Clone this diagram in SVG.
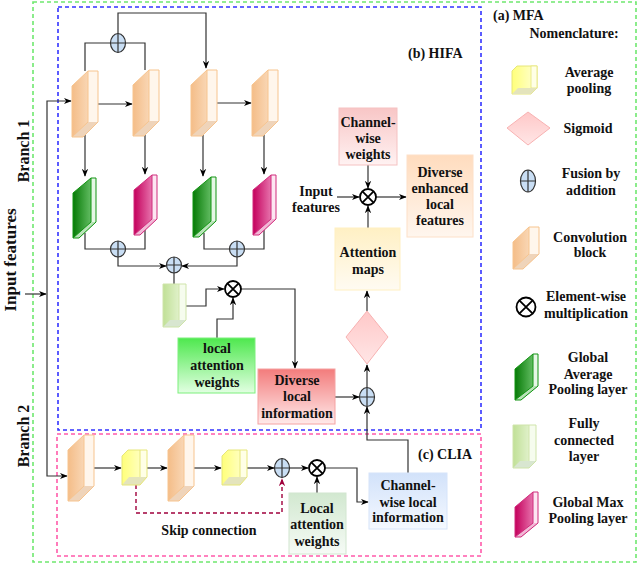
<svg xmlns="http://www.w3.org/2000/svg" width="640" height="565" viewBox="0 0 640 565">
<style>
text{font-family:"Liberation Serif","Times New Roman",serif;font-weight:bold;font-size:14px;fill:#111;text-anchor:middle}
.st{text-anchor:start}
.big{font-size:16px}
.ln{fill:none;stroke:#333;stroke-width:1.2}
.ar{marker-end:url(#arr)}
.skip{fill:none;stroke:#a0003c;stroke-width:1.4;stroke-dasharray:4 3;marker-end:url(#arrR)}
.frame{fill:none;stroke-width:1.6;stroke-dasharray:4 3}
</style>
<defs>
<marker id="arr" viewBox="0 0 10 10" refX="9" refY="5" markerWidth="8" markerHeight="8" markerUnits="userSpaceOnUse" orient="auto"><path d="M0,1 L10,5 L0,9 L3,5 Z" fill="#000"/></marker>
<marker id="arrR" viewBox="0 0 10 10" refX="9" refY="5" markerWidth="8" markerHeight="8" markerUnits="userSpaceOnUse" orient="auto"><path d="M0,1 L10,5 L0,9 L3,5 Z" fill="#a0003c"/></marker>
<linearGradient id="gConv" x1="0" y1="0" x2="1" y2="0"><stop offset="0" stop-color="#f4bd88"/><stop offset="1" stop-color="#fce6d0"/></linearGradient>
<linearGradient id="gGreen" x1="0" y1="0" x2="1" y2="0"><stop offset="0" stop-color="#067a06"/><stop offset="1" stop-color="#7ccf7c"/></linearGradient>
<linearGradient id="gMag" x1="0" y1="0" x2="1" y2="0"><stop offset="0" stop-color="#c4005c"/><stop offset="1" stop-color="#f092c2"/></linearGradient>
<linearGradient id="gYel" x1="0" y1="0" x2="1" y2="0"><stop offset="0" stop-color="#ffff7a"/><stop offset="1" stop-color="#ffffd6"/></linearGradient>
<linearGradient id="gFC" x1="0" y1="0" x2="1" y2="0"><stop offset="0" stop-color="#c0e096"/><stop offset="1" stop-color="#eef8e0"/></linearGradient>
<linearGradient id="bPink" x1="0" y1="0" x2="0" y2="1"><stop offset="0" stop-color="#f8c6c6"/><stop offset="1" stop-color="#fff2f2"/></linearGradient>
<linearGradient id="bOrange" x1="0" y1="0" x2="0" y2="1"><stop offset="0" stop-color="#ffdcbe"/><stop offset="1" stop-color="#fff6ee"/></linearGradient>
<linearGradient id="bYellow" x1="0" y1="0" x2="0" y2="1"><stop offset="0" stop-color="#fff0c4"/><stop offset="1" stop-color="#fffbf2"/></linearGradient>
<linearGradient id="bGreen" x1="0" y1="0" x2="0" y2="1"><stop offset="0" stop-color="#4ee84e"/><stop offset="1" stop-color="#e2ffe2"/></linearGradient>
<linearGradient id="bRed" x1="0" y1="0" x2="0" y2="1"><stop offset="0" stop-color="#f37c7c"/><stop offset="1" stop-color="#ffeaea"/></linearGradient>
<linearGradient id="bLGreen" x1="0" y1="0" x2="0" y2="1"><stop offset="0" stop-color="#d2e8d0"/><stop offset="1" stop-color="#f6fbf6"/></linearGradient>
<linearGradient id="bBlue" x1="0" y1="0" x2="0" y2="1"><stop offset="0" stop-color="#d2e2fa"/><stop offset="1" stop-color="#f5f9ff"/></linearGradient>
<linearGradient id="bDia" x1="0" y1="0" x2="0" y2="1"><stop offset="0" stop-color="#ffc8c8"/><stop offset="1" stop-color="#ffe6e6"/></linearGradient>
<g id="conv">
<path d="M0,15 L16,0 L26,0 L26,51 L11,66 L0,66 Z" fill="url(#gConv)"/>
<rect x="16" y="0" width="10" height="51" fill="#fff6ec"/>
<path d="M16,51 L26,51 L11,66 L0,66 Z" fill="#efd4ba"/>
<path d="M0,15 L16,0 L26,0 L26,51 L11,66 L0,66 Z M16,0 V51 L0,66" fill="none" stroke="#f7c48e" stroke-width="1"/>
</g>
<g id="gap">
<path d="M0,15 L18,0 L23,0 L23,44 L6,60 L0,60 Z" fill="url(#gGreen)"/>
<rect x="18" y="0" width="5" height="44" fill="#e6f7e6"/>
<path d="M18,44 L23,44 L6,60 L0,60 Z" fill="#b8e3b8"/>
<path d="M0,15 L18,0 L23,0 L23,44 L6,60 L0,60 Z M18,0 V44 L0,60" fill="none" stroke="#129412" stroke-width="1"/>
</g>
<g id="gmp">
<path d="M0,15 L18,0 L23,0 L23,44 L6,60 L0,60 Z" fill="url(#gMag)"/>
<rect x="18" y="0" width="5" height="44" fill="#fde6f2"/>
<path d="M18,44 L23,44 L6,60 L0,60 Z" fill="#f2b8d6"/>
<path d="M0,15 L18,0 L23,0 L23,44 L6,60 L0,60 Z M18,0 V44 L0,60" fill="none" stroke="#d02c7c" stroke-width="1"/>
</g>
<g id="avg">
<path d="M0,6 L6,0 L25,0 L25,27 L18,35 L0,35 Z" fill="url(#gYel)"/>
<rect x="18" y="0" width="7" height="27" fill="#ffffe6"/>
<path d="M7,27 L25,27 L18,35 L0,35 Z" fill="#e4e4bc"/>
<path d="M0,6 L6,0 L25,0 L25,27 L18,35 L0,35 Z M18,0 V27" fill="none" stroke="#e6e67a" stroke-width="1"/>
</g>
<g id="fc">
<path d="M0,0 L23,0 L23,36 L16,43 L0,43 Z" fill="url(#gFC)"/>
<rect x="16" y="0" width="7" height="36" fill="#f6fcee"/>
<path d="M7,36 L23,36 L16,43 L0,43 Z" fill="#d8e6d0"/>
<path d="M0,0 L23,0 L23,36 L16,43 L0,43 Z M16,0 V36" fill="none" stroke="#cfe4aa" stroke-width="1"/>
</g>
<g id="fuse">
<ellipse cx="0" cy="0" rx="7.5" ry="9.5" fill="#c9def4" stroke="#333" stroke-width="1.2"/>
<path d="M0,-9.5 V9.5 M-7.5,0 H7.5" stroke="#333" stroke-width="1.2"/>
</g>
<g id="fuseS">
<ellipse cx="0" cy="0" rx="7.5" ry="8" fill="#c9def4" stroke="#333" stroke-width="1.2"/>
<path d="M0,-8 V8 M-7.5,0 H7.5" stroke="#333" stroke-width="1.2"/>
</g>
<g id="mul">
<circle cx="0" cy="0" r="8" fill="#fff" stroke="#000" stroke-width="1.8"/>
<path d="M-5.6,-5.6 L5.6,5.6 M5.6,-5.6 L-5.6,5.6" stroke="#000" stroke-width="1.8"/>
</g>
</defs>

<rect width="640" height="565" fill="#fff"/>

<g id="frames">
<rect class="frame" x="33" y="2" width="603" height="560" stroke="#6fe86f"/>
<rect class="frame" x="58" y="7" width="423" height="423" stroke="#3333ff"/>
<rect class="frame" x="57" y="434" width="424" height="122" stroke="#ff5aaa"/>
<text class="st" x="493" y="20">(a) MFA</text>
<text class="st" x="408" y="58">(b) HIFA</text>
<text class="st" x="418" y="459">(c) CLIA</text>
</g>

<g id="side-labels">
<text class="big" transform="translate(29,151) rotate(-90)">Branch 1</text>
<text style="font-size:17px" transform="translate(16,260) rotate(-90)">Input features</text>
<text class="big" transform="translate(29,436) rotate(-90)">Branch 2</text>
</g>

<g id="connectors">
<path class="ln ar" d="M25,294 H46"/>
<path class="ln ar" d="M47,294 V101 H71"/>
<path class="ln ar" d="M47,294 V476 H67"/>
<path class="ln ar" d="M98,104 H132"/>
<path class="ln ar" d="M217,103 H251"/>
<path class="ln" d="M85,71 V43 H145 V70"/>
<path class="ln ar" d="M118,34 V13 H206 V68"/>
<path class="ln ar" d="M85,135 V176"/>
<path class="ln ar" d="M145,135 V174"/>
<path class="ln ar" d="M203,135 V176"/>
<path class="ln ar" d="M264,135 V174"/>
<path class="ln" d="M85,233 V249 H145 V230"/>
<path class="ln" d="M204,233 V249 H264 V230"/>
<path class="ln ar" d="M118,256 V266 H166"/>
<path class="ln ar" d="M237,256 V266 H182"/>
<path class="ln" d="M174,273 V284"/>
<path class="ln ar" d="M186,306 H206 V289 H224"/>
<path class="ln ar" d="M217,338 V319 H233 V298"/>
<path class="ln ar" d="M241,289 H295 V368"/>
<path class="ln ar" d="M335,397 H359"/>
<path class="ln ar" d="M367,387 V365"/>
<path class="ln ar" d="M367,311 V291"/>
<path class="ln ar" d="M368,228 V206"/>
<path class="ln ar" d="M368,165 V188"/>
<path class="ln ar" d="M337,197 H359"/>
<path class="ln ar" d="M376,197 H406"/>
<path class="ln ar" d="M94,468 H121"/>
<path class="ln ar" d="M147,468 H167"/>
<path class="ln ar" d="M194,468 H221"/>
<path class="ln ar" d="M247,468 H274"/>
<path class="ln ar" d="M289,468 H308"/>
<path class="ln ar" d="M325,468 H357 V502 H368"/>
<path class="ln ar" d="M317,493 V477"/>
<path class="ln ar" d="M408,473 V440 H367 V407"/>
<path class="skip" d="M136,485 V513 H282 V479"/>
</g>

<g id="hifa-conv1"><use href="#conv" x="72" y="71"/></g>
<g id="hifa-conv2"><use href="#conv" x="133" y="70"/></g>
<g id="hifa-conv3"><use href="#conv" x="191" y="70"/></g>
<g id="hifa-conv4"><use href="#conv" x="252" y="70"/></g>
<g id="hifa-gap1"><use href="#gap" x="73" y="178"/></g>
<g id="hifa-gmp1"><use href="#gmp" x="134" y="175"/></g>
<g id="hifa-gap2"><use href="#gap" x="193" y="177"/></g>
<g id="hifa-gmp2"><use href="#gmp" x="253" y="175"/></g>
<g id="fuse-top"><use href="#fuse" x="118" y="43"/></g>
<g id="fuse-l"><use href="#fuseS" x="118" y="249"/></g>
<g id="fuse-r"><use href="#fuseS" x="237" y="249"/></g>
<g id="fuse-c"><use href="#fuseS" x="174" y="265"/></g>
<g id="hifa-fc"><use href="#fc" x="163" y="284"/></g>
<g id="mul-hifa"><use href="#mul" x="233" y="289"/></g>

<g id="local-attention-weights">
<rect x="178" y="338" width="77" height="55" fill="url(#bGreen)" stroke="#7cef7c"/>
<text x="217" y="353">local</text><text x="217" y="370">attention</text><text x="217" y="387">weights</text>
</g>
<g id="diverse-local-information">
<rect x="258" y="369" width="77" height="55" fill="url(#bRed)" stroke="#f5a2a2"/>
<text x="297" y="385">Diverse</text><text x="297" y="401">local</text><text x="297" y="418">information</text>
</g>
<g id="fuse-diverse"><use href="#fuse" x="367" y="397"/></g>
<g id="sigmoid"><path d="M367,311 L388,337 L367,364 L346,337 Z" fill="url(#bDia)" stroke="#f8b2b2"/></g>
<g id="attention-maps">
<rect x="335" y="228" width="65" height="62" fill="url(#bYellow)" stroke="#fff0c2"/>
<text x="368" y="257">Attention</text><text x="368" y="274">maps</text>
</g>
<g id="mul-top"><use href="#mul" x="368" y="197"/></g>
<g id="channel-wise-weights">
<rect x="339" y="108" width="58" height="57" fill="url(#bPink)" stroke="#f5c2c2"/>
<text x="368" y="127">Channel-</text><text x="368" y="143">wise</text><text x="368" y="159">weights</text>
</g>
<g id="input-features">
<text x="316" y="196">Input</text><text x="316" y="212">features</text>
</g>
<g id="diverse-enhanced">
<rect x="407" y="155" width="66" height="82" fill="url(#bOrange)" stroke="#fde0c8"/>
<text x="440" y="177">Diverse</text><text x="440" y="193">enhanced</text><text x="440" y="209">local</text><text x="440" y="225">features</text>
</g>

<g id="clia-conv1"><use href="#conv" x="68" y="435"/></g>
<g id="clia-avg1"><use href="#avg" x="122" y="450"/></g>
<g id="clia-conv2"><use href="#conv" x="168" y="435"/></g>
<g id="clia-avg2"><use href="#avg" x="222" y="450"/></g>
<g id="fuse-clia"><use href="#fuse" x="282" y="468"/></g>
<g id="mul-clia"><use href="#mul" x="317" y="468"/></g>
<g id="clia-local-attention">
<rect x="289" y="493" width="57" height="61" fill="url(#bLGreen)" stroke="#d2e6d0"/>
<text x="317" y="513">Local</text><text x="317" y="529">attention</text><text x="317" y="546">weights</text>
</g>
<g id="channel-wise-local">
<rect x="369" y="473" width="78" height="56" fill="url(#bBlue)" stroke="#d6e4fa"/>
<text x="408" y="490">Channel-</text><text x="408" y="507">wise local</text><text x="408" y="522">information</text>
</g>
<g id="skip-label"><text x="209" y="535">Skip connection</text></g>

<g id="legend">
<text x="574" y="38">Nomenclature:</text>
<g id="leg-avg"><path d="M512,71 L517,66 L537,66 L537,88 L531,94 L512,94 Z" fill="url(#gYel)" stroke="#e6e67a"/><rect x="531" y="66" width="6" height="22" fill="#ffffe6" stroke="#e6e67a" stroke-width="0.8"/><path d="M518,88 L537,88 L531,94 L512,94 Z" fill="#e4e4bc"/></g>
<text x="589" y="77">Average</text><text x="589" y="93">pooling</text>
<g id="leg-sig"><path d="M528,112 L550,128 L528,145 L507,128 Z" fill="url(#bDia)" stroke="#f8b2b2"/></g>
<text x="588" y="133">Sigmoid</text>
<g id="leg-fuse"><ellipse cx="528" cy="181" rx="7.5" ry="11" fill="#c9def4" stroke="#333" stroke-width="1.2"/><path d="M528,170 V192 M520.5,181 H535.5" stroke="#333" stroke-width="1.2"/></g>
<text x="591" y="178">Fusion by</text><text x="591" y="195">addition</text>
<g id="leg-conv">
<path d="M513,242 L529,227 L539,227 L539,254 L523,269 L513,269 Z" fill="url(#gConv)"/>
<rect x="529" y="227" width="10" height="27" fill="#fff6ec"/>
<path d="M529,254 L539,254 L523,269 L513,269 Z" fill="#efd4ba"/>
<path d="M513,242 L529,227 L539,227 L539,254 L523,269 L513,269 Z M529,227 V254 L513,269" fill="none" stroke="#f7c48e"/>
</g>
<text x="590" y="242">Convolution</text><text x="590" y="257">block</text>
<g id="leg-mul"><circle cx="526" cy="307" r="9.5" fill="#fff" stroke="#000" stroke-width="1.8"/><path d="M519.3,300.3 L532.7,313.7 M532.7,300.3 L519.3,313.7" stroke="#000" stroke-width="1.8"/></g>
<text x="586" y="301">Element-wise</text><text x="586" y="318">multiplication</text>
<g id="leg-gap">
<path d="M515,369 L533,354 L538,354 L538,386 L521,400 L515,400 Z" fill="url(#gGreen)"/>
<rect x="533" y="354" width="5" height="32" fill="#e6f7e6"/>
<path d="M533,386 L538,386 L521,400 L515,400 Z" fill="#b8e3b8"/>
<path d="M515,369 L533,354 L538,354 L538,386 L521,400 L515,400 Z M533,354 V386 L515,400" fill="none" stroke="#129412"/>
</g>
<text x="588" y="362">Global</text><text x="588" y="379">Average</text><text x="588" y="394">Pooling layer</text>
<g id="leg-fc"><use href="#fc" x="513" y="425"/></g>
<text x="584" y="428">Fully</text><text x="584" y="445">connected</text><text x="584" y="461">layer</text>
<g id="leg-gmp">
<path d="M515,507 L533,492 L538,492 L538,523 L521,537 L515,537 Z" fill="url(#gMag)"/>
<rect x="533" y="492" width="5" height="31" fill="#fde6f2"/>
<path d="M533,523 L538,523 L521,537 L515,537 Z" fill="#f2b8d6"/>
<path d="M515,507 L533,492 L538,492 L538,523 L521,537 L515,537 Z M533,492 V523 L515,537" fill="none" stroke="#d02c7c"/>
</g>
<text x="588" y="507">Global Max</text><text x="588" y="523">Pooling layer</text>
</g>
</svg>
